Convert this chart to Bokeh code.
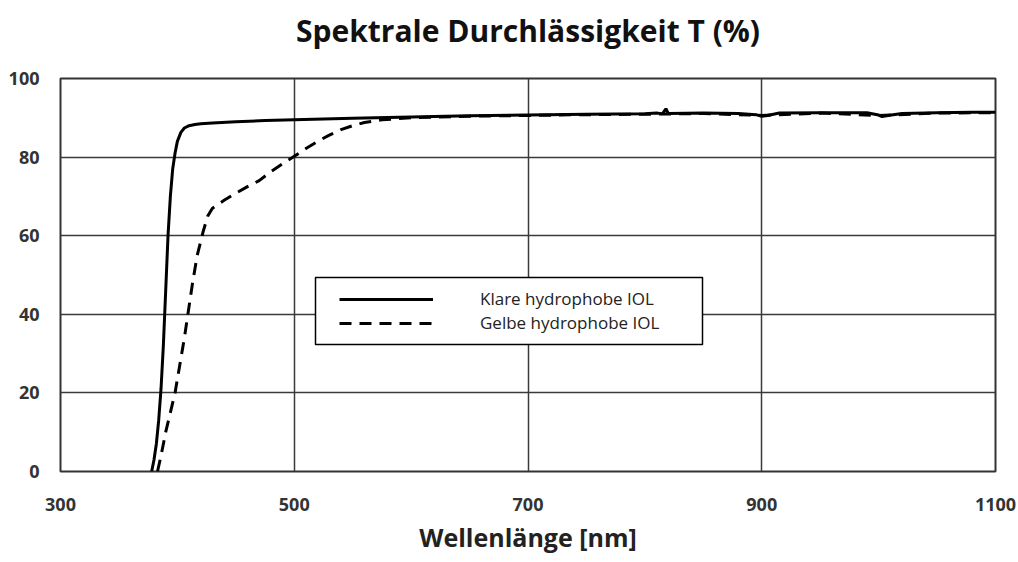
from bokeh.plotting import figure
from bokeh.models import Title, Legend, LegendItem, FixedTicker, BoxAnnotation
from bokeh.embed import file_html
from bokeh.resources import INLINE

# Klare hydrophobe IOL (solid)
klar_wl = [378, 380, 382, 384, 386, 388, 390, 392, 394, 396, 398, 400, 403, 406, 410, 415, 420,
           430, 450, 475, 500, 550, 600, 650, 700, 750, 800, 810, 815, 818, 820, 850, 880, 895,
           900, 905, 915, 950, 990, 1000, 1003, 1008, 1020, 1050, 1080, 1100]
klar_t = [0, 3, 7, 13, 21, 32, 46, 60, 70, 77, 81, 84, 86.3, 87.4, 88.0, 88.3, 88.5,
          88.7, 89.0, 89.3, 89.5, 89.9, 90.2, 90.5, 90.7, 90.9, 91.0, 91.2, 91.0, 92.3, 91.1, 91.2, 91.1, 90.8,
          90.4, 90.6, 91.2, 91.3, 91.3, 90.7, 90.3, 90.6, 91.1, 91.3, 91.4, 91.4]

# Gelbe hydrophobe IOL (dashed)
gelb_wl = [383, 386, 390, 394, 398, 402, 406, 409, 413, 417, 422, 426, 430, 440, 450, 460, 470,
           480, 490, 500, 510, 520, 530, 540, 550, 560, 575, 600, 650, 700, 750, 800, 850, 900,
           950, 1000, 1050, 1100]
gelb_t = [0, 4, 10, 15, 20, 27, 34, 40, 48, 55, 61, 65, 67, 69, 70.8, 72.5, 74,
          76.3, 78.3, 80.2, 82.2, 84, 85.6, 87, 88, 88.8, 89.5, 90.0, 90.4, 90.6, 90.8, 90.9, 91.1, 90.6,
          91.2, 90.6, 91.2, 91.3]

x_ticks = [300, 500, 700, 900, 1100]
y_ticks = [0, 20, 40, 60, 80, 100]

p = figure(width=1018, height=562, x_range=(300, 1100), y_range=(0, 100),
           output_backend="svg", toolbar_location=None,
           min_border_left=60, min_border_right=23, min_border_bottom=91, min_border_top=77)

# spacer between frame and title (nearest to the frame)
p.add_layout(Title(text=" ", text_font_size="1px", standoff=14), "above")
p.add_layout(Title(text="Spektrale Durchlässigkeit T (%)", align="center", offset=-18,
                   vertical_align="top", standoff=18,
                   text_font="Open Sans", text_font_size="30px", text_font_style="bold",
                   text_color="#111111"), "above")

p.add_layout(Title(text="Wellenlänge [nm]", align="center", offset=-18,
                   text_font="Open Sans", text_font_size="25px", text_font_style="bold",
                   text_color="#222222", standoff=8), "below")

r1 = p.line(klar_wl, klar_t, line_color="black", line_width=3)
r2 = p.line(gelb_wl, gelb_t, line_color="black", line_width=3, line_dash="12 8")

p.xaxis.ticker = FixedTicker(ticks=x_ticks)
p.yaxis.ticker = FixedTicker(ticks=y_ticks)
for ax in (p.xaxis, p.yaxis):
    ax.axis_line_color = None
    ax.major_tick_line_color = None
    ax.minor_tick_line_color = None
    ax.major_label_text_font = "Open Sans"
    ax.major_label_text_font_size = "18px"
    ax.major_label_text_font_style = "bold"
    ax.major_label_text_color = "#333333"
p.xaxis.major_label_standoff = 20
p.yaxis.major_label_standoff = 15

p.xgrid.grid_line_color = "#3a3a3a"
p.ygrid.grid_line_color = "#3a3a3a"
p.xgrid.grid_line_width = 1.5
p.ygrid.grid_line_width = 1.5
p.outline_line_color = "#333333"
p.outline_line_width = 2

# legend frame (screen units relative to the plot frame)
p.add_layout(BoxAnnotation(left=255, right=642, top=194, bottom=127,
                           left_units="screen", right_units="screen",
                           top_units="screen", bottom_units="screen",
                           fill_color="white", fill_alpha=1.0,
                           line_color="black", line_alpha=1.0, line_width=1.5))

legend = Legend(items=[LegendItem(label="Klare hydrophobe IOL", renderers=[r1]),
                       LegendItem(label="Gelbe hydrophobe IOL", renderers=[r2])],
                location=(279, 137), glyph_width=94, glyph_height=20, label_standoff=47,
                padding=10, spacing=1, label_text_font="Open Sans", label_text_font_size="17px",
                label_text_color="#222222", border_line_color=None,
                background_fill_alpha=0.0, margin=0)
p.add_layout(legend)

open("out.html", "w").write(file_html(p, INLINE))
